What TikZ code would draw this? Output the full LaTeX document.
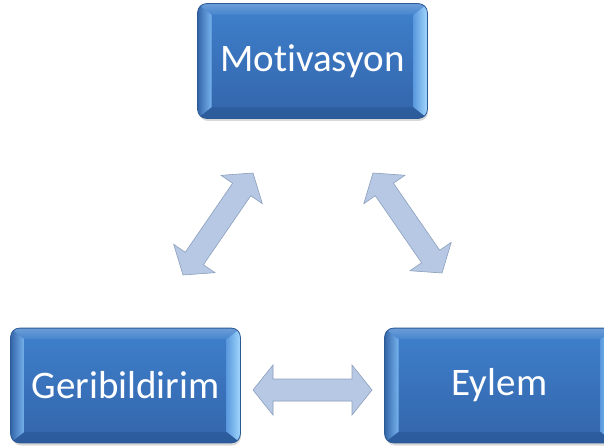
\documentclass[tikz,border=0pt]{standalone}
\usepackage{fontspec}
\setmainfont{Carlito}[Ligatures={NoCommon,NoRare,NoContextual}]
\usetikzlibrary{calc,shadows}
\definecolor{faceT}{HTML}{3F80CC}
\definecolor{faceB}{HTML}{3365AB}
\definecolor{edgeC}{HTML}{2C5A94}
\definecolor{bvL1}{HTML}{3466AA}
\definecolor{bvL2}{HTML}{78B4EE}
\definecolor{bvR1}{HTML}{5A99DE}
\definecolor{bvR2}{HTML}{A2D6FC}
\definecolor{bvT}{HTML}{4785CE}
\definecolor{bvB}{HTML}{2C5B9B}
\definecolor{arrF}{HTML}{B6C8E3}
\definecolor{arrE}{HTML}{8EA2C0}
\tikzset{
  bluebox/.style={rectangle, rounded corners=9pt, minimum width=229pt, minimum height=114pt,
    inner sep=0pt, top color=faceT, bottom color=faceB, draw=edgeC, line width=0.8pt,
    text=white, font=\fontsize{39}{44}\selectfont,
    drop shadow={shadow xshift=1pt, shadow yshift=-3pt, opacity=.3}},
  boxedge/.style={draw=edgeC, line width=0.8pt, rounded corners=9pt},
  arrbody/.style={fill=arrF, draw=arrE, line width=0.6pt, line join=miter},
  arrshadow/.style={fill=black, opacity=.22}
}
\newcommand\bevelbox[1]{%
  \begin{scope}
    \clip[rounded corners=9pt] (#1.south west) rectangle (#1.north east);
    \coordinate (#1-i1) at ($(#1.north west)+(14pt,-11pt)$);
    \coordinate (#1-i2) at ($(#1.north east)+(-14pt,-11pt)$);
    \coordinate (#1-i3) at ($(#1.south east)+(-14pt,11pt)$);
    \coordinate (#1-i4) at ($(#1.south west)+(14pt,11pt)$);
    \path[left color=bvL1, right color=bvL2] (#1.north west) -- (#1-i1) -- (#1-i4) -- (#1.south west) -- cycle;
    \path[left color=bvR1, right color=bvR2] (#1.north east) -- (#1-i2) -- (#1-i3) -- (#1.south east) -- cycle;
    \path[top color=bvT!80!white, bottom color=bvT] (#1.north west) -- (#1-i1) -- (#1-i2) -- (#1.north east) -- cycle;
    \path[top color=bvB!80!faceB, bottom color=bvB] (#1.south west) -- (#1-i4) -- (#1-i3) -- (#1.south east) -- cycle;
  \end{scope}
  \draw[boxedge] (#1.south west) rectangle (#1.north east);
}
\newcommand\dblpath[2]{%
  (#1) -- ($(#1)!20pt!(#2)!25pt!90:(#2)$) -- ($(#1)!20pt!(#2)!11pt!90:(#2)$)
  -- ($(#2)!20pt!(#1)!11pt!-90:(#1)$) -- ($(#2)!20pt!(#1)!25pt!-90:(#1)$)
  -- (#2) -- ($(#2)!20pt!(#1)!25pt!90:(#1)$) -- ($(#2)!20pt!(#1)!11pt!90:(#1)$)
  -- ($(#1)!20pt!(#2)!11pt!-90:(#2)$) -- ($(#1)!20pt!(#2)!25pt!-90:(#2)$) -- cycle}
\newcommand\dblarrow[2]{%
  \fill[arrshadow, shift={(1pt,-2pt)}] \dblpath{#1}{#2};
  \path[arrbody] \dblpath{#1}{#2};
}
\begin{document}
\begin{tikzpicture}[x=1pt,y=1pt]
  \useasboundingbox (0,0) rectangle (604,445);
  \clip (0,0) rectangle (604,445);
  \fill[white] (0,0) rectangle (604,445);
  \node[bluebox] (mot) at (312.5,384) {Mot\kern0pt ivasyon};
  \bevelbox{mot}
  \node[bluebox] (geri) at (125.5,59.5) {Geribildirim};
  \bevelbox{geri}
  \node[bluebox] (eyl) at (499.5,59.5) {Eylem};
  \bevelbox{eyl}
  % arrow end points
  \coordinate (ga) at (183,170);
  \coordinate (ma) at (253,272);
  \coordinate (mb) at (373,272);
  \coordinate (eb) at (442,172);
  \coordinate (gc) at (253,55);
  \coordinate (ec) at (372,55);
  \dblarrow{ga}{ma}
  \dblarrow{mb}{eb}
  \dblarrow{gc}{ec}
\end{tikzpicture}
\end{document}
